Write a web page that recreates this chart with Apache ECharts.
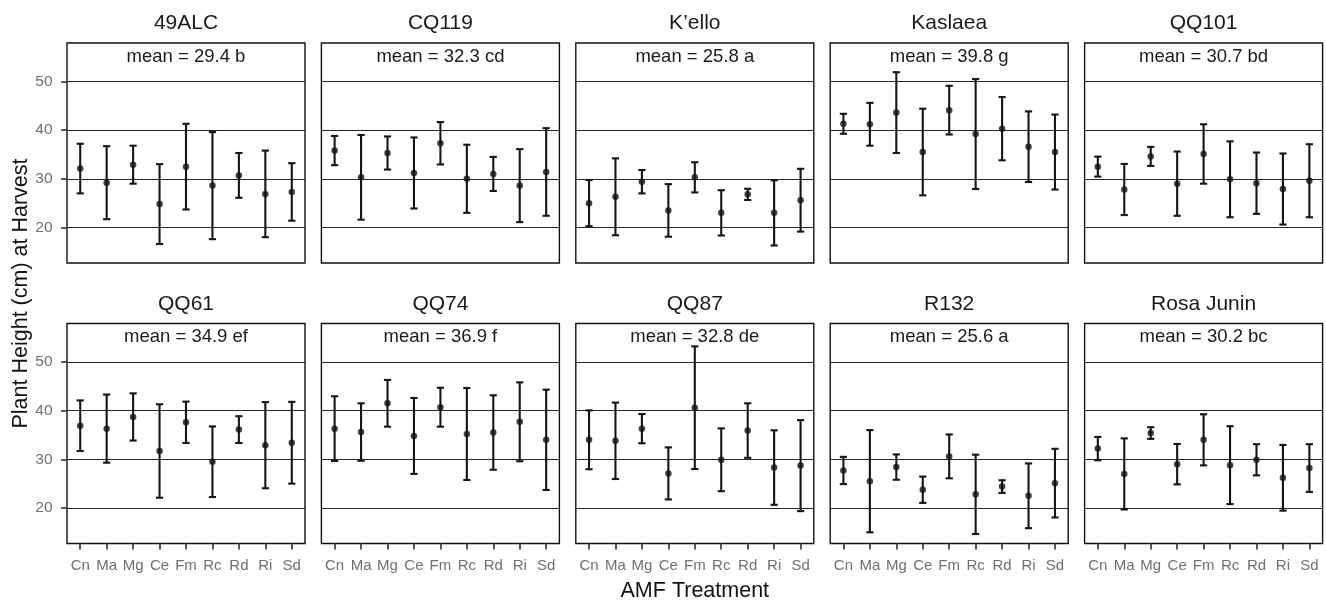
<!DOCTYPE html>
<html>
<head>
<meta charset="utf-8">
<script src="https://cdn.jsdelivr.net/npm/echarts@6/dist/echarts.min.js"></script>
<style>
html,body{margin:0;padding:0;background:#fff;}
#chart{width:1326px;height:602px;}
</style>
</head>
<body>
<div id="chart"></div>
<script>
var treatments = ['Cn','Ma','Mg','Ce','Fm','Rc','Rd','Ri','Sd'];
var genotypes = ['49ALC','CQ119','K\u2019ello','Kaslaea','QQ101','QQ61','QQ74','QQ87','R132','Rosa Junin'];
var meanLabels = ['mean = 29.4 b','mean = 32.3 cd','mean = 25.8 a','mean = 39.8 g','mean = 30.7 bd',
                  'mean = 34.9 ef','mean = 36.9 f','mean = 32.8 de','mean = 25.6 a','mean = 30.2 bc'];
var yTicks = [20, 30, 40, 50];

// mean plant height per treatment, one array per genotype
var mean49ALC   = [32.1, 29.2, 32.9, 24.8, 32.5, 28.6, 30.7, 26.9, 27.3];
var meanCQ119   = [35.8, 30.3, 35.3, 31.2, 37.3, 30.0, 31.0, 28.6, 31.4];
var meanKello   = [25.0, 26.3, 29.4, 23.5, 30.3, 23.0, 26.8, 23.0, 25.6];
var meanKaslaea = [41.3, 41.2, 43.6, 35.5, 44.1, 39.2, 40.3, 36.6, 35.5];
var meanQQ101   = [32.5, 27.8, 34.6, 29.0, 35.1, 29.9, 29.1, 27.9, 29.6];
var meanQQ61    = [36.9, 36.3, 38.7, 31.7, 37.6, 29.5, 36.1, 32.9, 33.4];
var meanQQ74    = [36.3, 35.6, 41.5, 34.8, 40.7, 35.2, 35.5, 37.7, 34.0];
var meanQQ87    = [34.0, 33.8, 36.3, 27.1, 40.6, 29.9, 35.9, 28.3, 28.7];
var meanR132    = [27.7, 25.5, 28.4, 23.75, 30.6, 22.8, 24.4, 22.5, 25.1];
var meanRosa    = [32.2, 27.0, 35.4, 29.0, 34.0, 28.8, 29.9, 26.2, 28.2];

// half-length of the error bars
var sd49ALC   = [5.1, 7.5, 3.9, 8.2, 8.8, 11.0, 4.6, 8.9, 5.9];
var sdCQ119   = [3.0, 8.7, 3.4, 7.3, 4.35, 7.0, 3.5, 7.5, 9.0];
var sdKello   = [4.75, 7.9, 2.4, 5.4, 3.1, 4.65, 1.15, 6.7, 6.45];
var sdKaslaea = [2.05, 4.4, 8.3, 8.9, 5.0, 11.3, 6.5, 7.25, 7.7];
var sdQQ101   = [2.05, 5.25, 1.95, 6.6, 6.1, 7.8, 6.3, 7.3, 7.5];
var sdQQ61    = [5.2, 7.0, 4.85, 9.6, 4.25, 7.25, 2.75, 8.85, 8.4];
var sdQQ74    = [6.65, 5.9, 4.8, 7.8, 4.0, 9.45, 7.65, 8.1, 10.3];
var sdQQ87    = [6.05, 7.85, 3.0, 5.35, 12.6, 6.45, 5.6, 7.65, 9.35];
var sdR132    = [2.8, 10.5, 2.6, 2.7, 4.5, 8.15, 1.3, 6.65, 7.05];
var sdRosa    = [2.4, 7.3, 1.2, 4.15, 5.25, 8.0, 3.2, 6.75, 4.9];

var means = [mean49ALC, meanCQ119, meanKello, meanKaslaea, meanQQ101, meanQQ61, meanQQ74, meanQQ87, meanR132, meanRosa];
var sds = [sd49ALC, sdCQ119, sdKello, sdKaslaea, sdQQ101, sdQQ61, sdQQ74, sdQQ87, sdR132, sdRosa];

var FONT = '"Liberation Sans", Arial, Helvetica, sans-serif';
var gridLeft0 = 67, gridStep = 254.4, gridW = 238, gridH = 220;
var rowTops = [43, 323.5];
var yMin = 12.7, yMax = 57.9;

function errRender(params, api) {
  var lo = api.coord([api.value(0), api.value(1)]);
  var hi = api.coord([api.value(0), api.value(2)]);
  var c = 3.6;
  var st = {stroke: '#151515', lineWidth: 2.1};
  return {type: 'group', children: [
    {type: 'line', shape: {x1: lo[0], y1: lo[1], x2: hi[0], y2: hi[1]}, style: st},
    {type: 'line', shape: {x1: lo[0] - c, y1: lo[1], x2: lo[0] + c, y2: lo[1]}, style: st},
    {type: 'line', shape: {x1: hi[0] - c, y1: hi[1], x2: hi[0] + c, y2: hi[1]}, style: st}
  ]};
}

function buildOption(mode) {
  var grids = [], xAxes = [], yAxes = [], series = [], graphics = [];
  for (var i = 0; i < genotypes.length; i++) {
    var col = i % 5, row = Math.floor(i / 5);
    var left = gridLeft0 + col * gridStep, top = rowTops[row];
    grids.push({left: left, top: top, width: gridW, height: gridH, show: true,
      borderColor: '#111', borderWidth: 1.4, backgroundColor: '#fff'});
    xAxes.push({type: 'category', gridIndex: i, data: treatments, boundaryGap: true,
      axisLine: {show: false},
      axisTick: {show: row === 1, alignWithLabel: true, length: 6, lineStyle: {color: '#444', width: 1.8}},
      axisLabel: {show: row === 1, color: '#707070', fontSize: 15, fontFamily: FONT, margin: 15, interval: 0},
      splitLine: {show: false}});
    var yt = {show: col === 0, length: 6, lineStyle: {color: '#444', width: 1.8}};
    var yl = {show: col === 0, color: '#707070', fontSize: 15.5, fontFamily: FONT, margin: 14.5};
    if (mode === 0) {
      yt.customValues = yTicks; yl.customValues = yTicks;
      yl.showMinLabel = true; yl.showMaxLabel = true; yl.hideOverlap = false;
    } else if (mode === 1) {
      yt.customValues = yTicks; yl.showMinLabel = false; yl.showMaxLabel = false;
    } else {
      yl.showMinLabel = false; yl.showMaxLabel = false;
    }
    yAxes.push({type: 'value', gridIndex: i, min: yMin, max: yMax,
      axisLine: {show: false}, axisTick: yt, axisLabel: yl, splitLine: {show: false}});

    var pts = [], bars = [];
    for (var j = 0; j < treatments.length; j++) {
      pts.push([j, means[i][j]]);
      bars.push([j, means[i][j] - sds[i][j], means[i][j] + sds[i][j]]);
    }
    series.push({type: 'custom', xAxisIndex: i, yAxisIndex: i, z: 3, silent: true,
      encode: {x: 0, y: [1, 2]}, data: bars, renderItem: errRender});
    series.push({type: 'scatter', xAxisIndex: i, yAxisIndex: i, z: 4, silent: true,
      symbol: 'circle', symbolSize: 6.5, itemStyle: {color: '#111'}, data: pts,
      markLine: {silent: true, symbol: ['none', 'none'], animation: false,
        label: {show: false}, lineStyle: {color: '#111', width: 0.9, type: 'solid'},
        data: yTicks.map(function (v) { return {yAxis: v}; })}});

    graphics.push({type: 'text', x: left + gridW / 2, y: top - 19.5,
      style: {text: genotypes[i], font: '21px ' + FONT, fill: '#1a1a1a', textAlign: 'center', textVerticalAlign: 'middle'}});
    graphics.push({type: 'text', x: left + gridW / 2, y: top + 13.5,
      style: {text: meanLabels[i], font: '18.5px ' + FONT, fill: '#1a1a1a', textAlign: 'center', textVerticalAlign: 'middle'}});
  }
  graphics.push({type: 'text', x: gridLeft0 + 2 * gridStep + gridW / 2, y: 591,
    style: {text: 'AMF Treatment', font: '21.5px ' + FONT, fill: '#111', textAlign: 'center', textVerticalAlign: 'middle'}});
  graphics.push({type: 'text', x: 21, y: 293.5, rotation: Math.PI / 2,
    style: {text: 'Plant Height (cm) at Harvest', font: '21.5px ' + FONT, fill: '#111', textAlign: 'center', textVerticalAlign: 'middle'}});
  return {animation: false, backgroundColor: '#fff',
    grid: grids, xAxis: xAxes, yAxis: yAxes, series: series, graphic: graphics};
}

var el = document.getElementById('chart');
for (var mode = 0; mode < 3; mode++) {
  var chart = echarts.init(el);
  try {
    chart.setOption(buildOption(mode));
    break;
  } catch (e) {
    chart.dispose();
  }
}
</script>
</body>
</html>
